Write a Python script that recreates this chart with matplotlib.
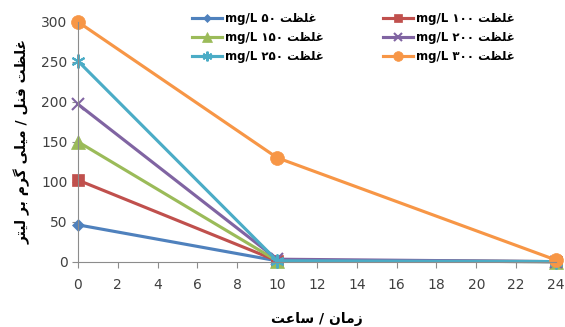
import matplotlib
matplotlib.use("Agg")
import matplotlib.pyplot as plt

# Persian words, pre-shaped (presentation forms) and in visual left-to-right order
GHELZAT = "\uFE96\uFEC8\uFEE0\uFECF"      # غلظت
FENOL = "\uFEDE\uFEE8\uFED3"              # فنل
MILI = "\uFEF0\uFEE0\uFEF4\uFEE3"         # میلی
GERAM = "\uFEE1\uFEAE\uFB94"              # گرم
BAR = "\uFEAE\uFE91"                      # بر
LITR = "\uFEAE\uFE98\uFEF4\uFEDF"         # لیتر
ZAMAN = "\uFEE5\uFE8E\uFEE3\uFEAF"        # زمان
SAAT = "\uFE96\uFECB\uFE8E\uFEB3"         # ساعت

hours = [0, 10, 24]
conc_labels = ["\u06F5\u06F0", "\u06F1\u06F0\u06F0", "\u06F1\u06F5\u06F0",
               "\u06F2\u06F0\u06F0", "\u06F2\u06F5\u06F0", "\u06F3\u06F0\u06F0"]
c50 = [46, 1, 0]
c100 = [102, 1, 0]
c150 = [150, 1, 0]
c200 = [197, 3, 0]
c250 = [251, 1, 0]
c300 = [300, 130, 2]

series = [c50, c100, c150, c200, c250, c300]
colors = ["#4F81BD", "#C0504D", "#9BBB59", "#8064A2", "#4BACC6", "#F79646"]
markers = ["D", "s", "^", "x", (6, 2, 0), "o"]
msizes = [6, 9, 10, 9, 10, 10]

fig, ax = plt.subplots(figsize=(5.65, 3.27), dpi=100)
fig.subplots_adjust(left=0.138, right=0.984, top=0.933, bottom=0.2)

handles = []
for vals, col, mk, ms, lab in zip(series, colors, markers, msizes, conc_labels):
    thin = mk == "x" or isinstance(mk, tuple)
    h, = ax.plot(hours, vals, color=col, lw=2.25, marker=mk, ms=ms,
                 mew=1.5 if thin else 0.5, mec=col, mfc=col,
                 label="mg/L " + lab + " " + GHELZAT, clip_on=False)
    handles.append(h)

ax.set_xlim(0, 24)
ax.set_ylim(0, 300)
ax.set_xticks(range(0, 25, 2))
ax.set_yticks(range(0, 301, 50))
for s in ["top", "right"]:
    ax.spines[s].set_visible(False)
for s in ["left", "bottom"]:
    ax.spines[s].set_color("#8C8C8C")
ax.tick_params(colors="#8C8C8C", labelcolor="#404040", labelsize=10, length=4)
ax.tick_params(axis="x", pad=8)

# RTL: "زمان / ساعت" -> visual order left to right is ساعت / زمان
ax.set_xlabel(SAAT + " / " + ZAMAN, fontsize=10, fontweight="bold",
              family="DejaVu Sans", labelpad=14)
ax.set_ylabel(LITR + " " + BAR + " " + GERAM + " " + MILI + " / " + FENOL + " " + GHELZAT,
              fontsize=10, fontweight="bold", family="DejaVu Sans", labelpad=8)

# legend order: left column 50,150,250 ; right column 100,200,300
order = [0, 2, 4, 1, 3, 5]
leg = ax.legend([handles[i] for i in order], [handles[i].get_label() for i in order],
                ncol=2, frameon=False, loc="upper left", bbox_to_anchor=(0.228, 1.06),
                prop={"family": "DejaVu Sans", "weight": "bold", "size": 8.5},
                handlelength=2.6, handletextpad=0.2, columnspacing=5.0,
                labelspacing=0.5, borderaxespad=0, markerscale=0.7)

fig.savefig("out.png", dpi=100)
